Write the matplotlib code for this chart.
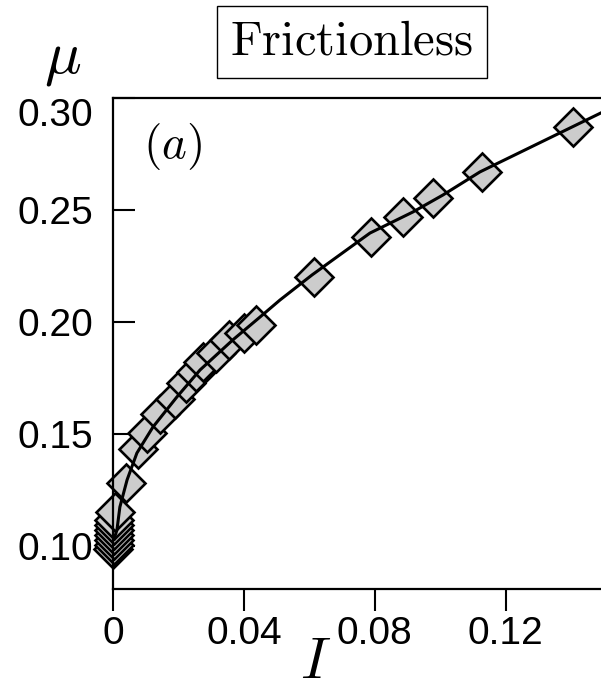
import numpy as np
import matplotlib
matplotlib.use('Agg')
import matplotlib.pyplot as plt

# ============================================================
# DATA
# ============================================================
# measured points: inertial number I vs friction coefficient mu
I_points = [0.0001, 0.0002, 0.0002, 0.0003, 0.0003, 0.0004, 0.0004, 0.0005,
            0.0040, 0.0076, 0.0104, 0.0144, 0.0189, 0.0223, 0.0253, 0.0275,
            0.0315, 0.0354, 0.0400, 0.0437, 0.0614, 0.0788, 0.0886, 0.0977,
            0.1127, 0.1405]
mu_points = [0.0987, 0.1005, 0.1027, 0.1049, 0.1071, 0.1094, 0.1116, 0.1152,
             0.1281, 0.1433, 0.1504, 0.1589, 0.1656, 0.1728, 0.1777, 0.1821,
             0.1862, 0.1920, 0.1951, 0.1987, 0.2201, 0.2380, 0.2469, 0.2554,
             0.2670, 0.2871]

# fitted curve
I_curve = [0.0003, 0.0012, 0.0021, 0.0043, 0.0073, 0.0122, 0.0195, 0.0266,
           0.0366, 0.0449, 0.0510, 0.0608, 0.0785, 0.0916, 0.1008, 0.1121,
           0.1490]
mu_curve = [0.1030, 0.1071, 0.1174, 0.1295, 0.1415, 0.1531, 0.1665, 0.1786,
            0.1920, 0.2022, 0.2098, 0.2210, 0.2397, 0.2491, 0.2567, 0.2670,
            0.2933]

x_ticks = [0, 0.04, 0.08, 0.12]
x_tick_labels = ['0', '0.04', '0.08', '0.12']
y_ticks = [0.10, 0.15, 0.20, 0.25, 0.30]
y_tick_labels = ['0.10', '0.15', '0.20', '0.25', '0.30']

# ============================================================
# PLOT
# ============================================================
plt.rcParams['font.family'] = ['Liberation Sans', 'DejaVu Sans']
plt.rcParams['mathtext.fontset'] = 'cm'

W, H = 601, 689
fig = plt.figure(figsize=(W / 100, H / 100), dpi=100)
ax = fig.add_axes([113 / W, 100 / H, 491 / W, 491 / H])

ax.plot(I_curve, mu_curve, color='black', linewidth=2.2, zorder=3)
ax.plot(I_points, mu_points, linestyle='none', marker='D', markersize=19,
        markerfacecolor='#cccccc', markeredgecolor='black',
        markeredgewidth=1.9, clip_on=False, zorder=2)

ax.set_xlim(0, 0.15)
ax.set_ylim(0.0808, 0.30)
ax.set_xticks(x_ticks)
ax.set_xticklabels(x_tick_labels)
ax.set_yticks(y_ticks)
ax.set_yticklabels(y_tick_labels)
ax.get_yticklabels()[-1].set_va('top')

ax.tick_params(axis='x', direction='out', length=15.5, width=1.5, pad=4,
               labelsize=28)
ax.tick_params(axis='y', direction='in', length=15.5, width=1.5, pad=14,
               labelsize=28)
for side in ['left', 'bottom', 'top']:
    ax.spines[side].set_linewidth(1.6)
ax.spines['right'].set_visible(False)

fig.text(63 / W, 1 - 60 / H, r'$\mu$', fontsize=44, ha='center', va='center')
fig.text(316 / W, 1 - 678 / H, r'$I$', fontsize=42, ha='center',
         va='baseline')
fig.text(173 / W, 1 - 146 / H, r'$(a)$', fontsize=34, ha='center', va='center')
fig.text(352 / W, 1 - 42 / H, r'$\mathrm{Frictionless}$', fontsize=35,
         ha='center', va='center',
         bbox=dict(boxstyle='square,pad=0.28', facecolor='white',
                   edgecolor='black', linewidth=1))

plt.savefig('out.png', dpi=100)
